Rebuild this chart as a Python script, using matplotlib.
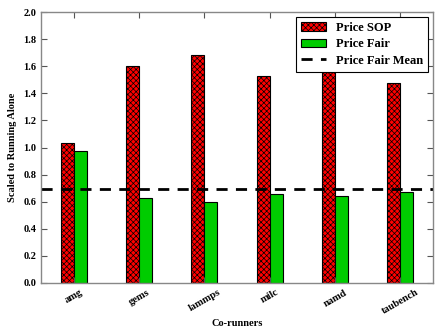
import matplotlib
matplotlib.use('Agg')
import matplotlib.pyplot as plt
import numpy as np

runners = ['amg', 'gems', 'lammps', 'milc', 'namd', 'taubench']
price_sop = [1.03, 1.60, 1.68, 1.53, 1.565, 1.475]
price_fair = [0.975, 0.625, 0.595, 0.655, 0.64, 0.675]
fair_mean = 0.69

plt.rcParams['font.family'] = 'Liberation Serif'
plt.rcParams['font.weight'] = 'bold'
plt.rcParams['hatch.linewidth'] = 0.5

fig = plt.figure(figsize=(4.46, 3.36), dpi=100)
ax = fig.add_axes([0.092, 0.158, 0.879, 0.806])

x = np.arange(len(runners))
w = 0.2
b1 = ax.bar(x, price_sop, w, align='edge', color='red', edgecolor='black',
            hatch='xxxxxx', linewidth=0.8, label='Price SOP')
b2 = ax.bar(x + w, price_fair, w, align='edge', color='#00cc00', edgecolor='black',
            linewidth=0.8, label='Price Fair')
ln = ax.axhline(fair_mean, color='black', linestyle='--', linewidth=2,
                dashes=(4, 3), label='Price Fair Mean')

ax.set_xlim(-0.3, len(runners) - 0.3)
ax.set_ylim(0, 2.0)
ax.set_xticks(x + w)
ax.set_xticklabels(runners, rotation=30, fontsize=7.5, fontweight='bold')
ax.set_yticks(np.arange(0, 2.01, 0.2))
ax.set_yticklabels(['%.1f' % v for v in np.arange(0, 2.01, 0.2)], fontsize=7.5, fontweight='bold')
ax.tick_params(direction='in', top=True, right=True, length=4, color='#555555')
for s in ax.spines.values():
    s.set_color('#888888')
    s.set_linewidth(1)

ax.set_xlabel('Co-runners', fontsize=7.5, fontweight='bold', labelpad=2)
ax.set_ylabel('Scaled to Running Alone', fontsize=7.5, fontweight='bold')

leg = ax.legend([b1, b2, ln], ['Price SOP', 'Price Fair', 'Price Fair Mean'],
                loc='upper right', fontsize=9, fancybox=False, framealpha=1,
                edgecolor='black', handlelength=2.0, borderaxespad=0.4,
                labelspacing=0.35)
leg.get_frame().set_linewidth(0.8)

fig.savefig('out.png', dpi=100)
